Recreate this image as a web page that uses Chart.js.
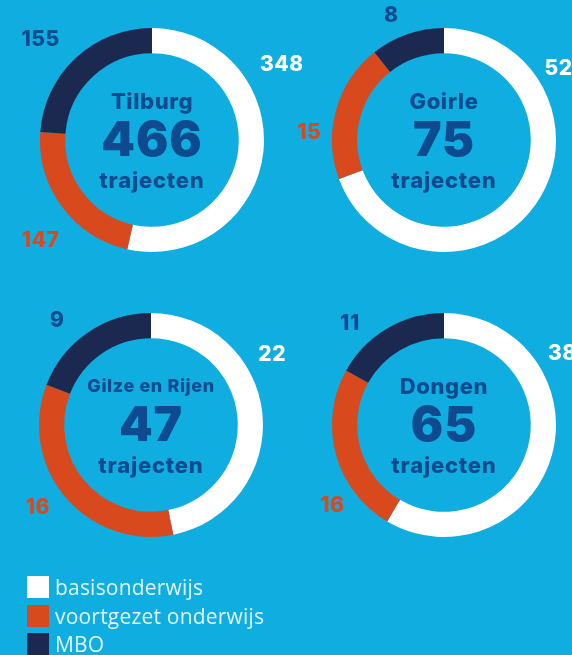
<!DOCTYPE html>
<html>
<head>
<meta charset="utf-8">
<script src="https://cdn.jsdelivr.net/npm/chart.js@4/dist/chart.umd.min.js"></script>
<style>
    html, body { margin: 0; padding: 0; }
    body {
        width: 572px; height: 655px; overflow: hidden; position: relative;
        background: #10ade0;
    }
    .ring { position: absolute; width: 300px; height: 300px; }
    #legend { position: absolute; left: 27px; top: 576px; }
    .leg-row { height: 28.5px; display: flex; align-items: flex-start; }
    .leg-box { width: 22px; height: 22px; margin-right: 6px; }
    .leg-txt {
        font-family: "Open Sans", sans-serif; font-size: 21px; color: #e4f5fc;
        line-height: 23px; letter-spacing: 0.2px;
    }
</style>
</head>
<body>

<div class="ring" style="left:2px;top:-10px"><canvas id="c0"></canvas></div>
<div class="ring" style="left:294px;top:-10px"><canvas id="c1"></canvas></div>
<div class="ring" style="left:1px;top:275px"><canvas id="c2"></canvas></div>
<div class="ring" style="left:294px;top:275px"><canvas id="c3"></canvas></div>
<div id="legend"></div>

<script>
// data
var categorieen = ["basisonderwijs", "voortgezet onderwijs", "MBO"];
var gemeenten = ["Tilburg", "Goirle", "Gilze en Rijen", "Dongen"];
var totalen = [466, 75, 47, 65];
var tilburg = [348, 147, 155];
var goirle = [52, 15, 8];
var gilzeRijen = [22, 16, 9];
var dongen = [38, 16, 11];
var reeksen = [tilburg, goirle, gilzeRijen, dongen];

var kleuren = ["#ffffff", "#d9491e", "#1b2850"];
var labelKleuren = ["#ffffff", "#d9491e", "#0d4a8e"];

// label angles (degrees from top, clockwise) per ring
var labelHoeken = [
    [60, 228, 312],
    [58, 273, 337],
    [60, 234, 318],
    [59, 234, 317]
];
var labelAfstand = [150, 135, 140, 138];

var ringTekst = {
    id: "ringTekst",
    afterDraw: function (chart) {
        var o = chart.options.plugins.ringTekst;
        var ctx = chart.ctx;
        var meta = chart.getDatasetMeta(0);
        var arc = meta.data[0];
        var cx = arc.x, cy = arc.y;

        ctx.save();
        ctx.textAlign = "center";
        ctx.textBaseline = "middle";
        ctx.fillStyle = "#0d4a8e";
        ctx.letterSpacing = "0.6px";
        var fs = 22;
        ctx.font = "800 " + fs + "px Inter, sans-serif";
        while (ctx.measureText(o.titel).width > 128 && fs > 12) {
            fs -= 0.5;
            ctx.font = "800 " + fs + "px Inter, sans-serif";
        }
        ctx.fillText(o.titel, cx, cy - 38);
        ctx.letterSpacing = "1px";
        ctx.font = "900 48px Inter, sans-serif";
        ctx.fillText(o.totaal, cx, cy + 2);
        ctx.letterSpacing = "0.8px";
        ctx.font = "800 22px Inter, sans-serif";
        ctx.fillText("trajecten", cx, cy + 41);

        // values around the ring
        ctx.letterSpacing = "0.5px";
        ctx.font = "800 21px Inter, sans-serif";
        var waarden = chart.data.datasets[0].data;
        for (var i = 0; i < waarden.length; i++) {
            var a = o.hoeken[i] * Math.PI / 180;
            var x = cx + Math.sin(a) * o.afstand;
            var y = cy - Math.cos(a) * o.afstand;
            ctx.fillStyle = labelKleuren[i];
            ctx.fillText(String(waarden[i]), x, y);
        }
        ctx.restore();
    }
};

$ = function (id) { return document.getElementById(id); };

for (var n = 0; n < reeksen.length; n++) {
    new Chart($("c" + n), {
        type: "doughnut",
        data: {
            labels: categorieen,
            datasets: [{
                data: reeksen[n],
                backgroundColor: kleuren,
                borderWidth: 0,
                hoverOffset: 0
            }]
        },
        options: {
            responsive: true,
            maintainAspectRatio: false,
            animation: false,
            cutout: "77.5%",
            layout: { padding: 38 },
            events: [],
            plugins: {
                legend: { display: false },
                tooltip: { enabled: false },
                ringTekst: {
                    titel: gemeenten[n],
                    totaal: totalen[n],
                    hoeken: labelHoeken[n],
                    afstand: labelAfstand[n]
                }
            }
        },
        plugins: [ringTekst]
    });
}

// legend
var leg = $("legend");
for (var k = 0; k < categorieen.length; k++) {
    var rij = document.createElement("div");
    rij.className = "leg-row";
    rij.innerHTML = "<div class='leg-box' style='background:" + kleuren[k] + "'></div>" +
        "<div class='leg-txt'>" + categorieen[k] + "</div>";
    leg.appendChild(rij);
}
</script>
</body>
</html>
